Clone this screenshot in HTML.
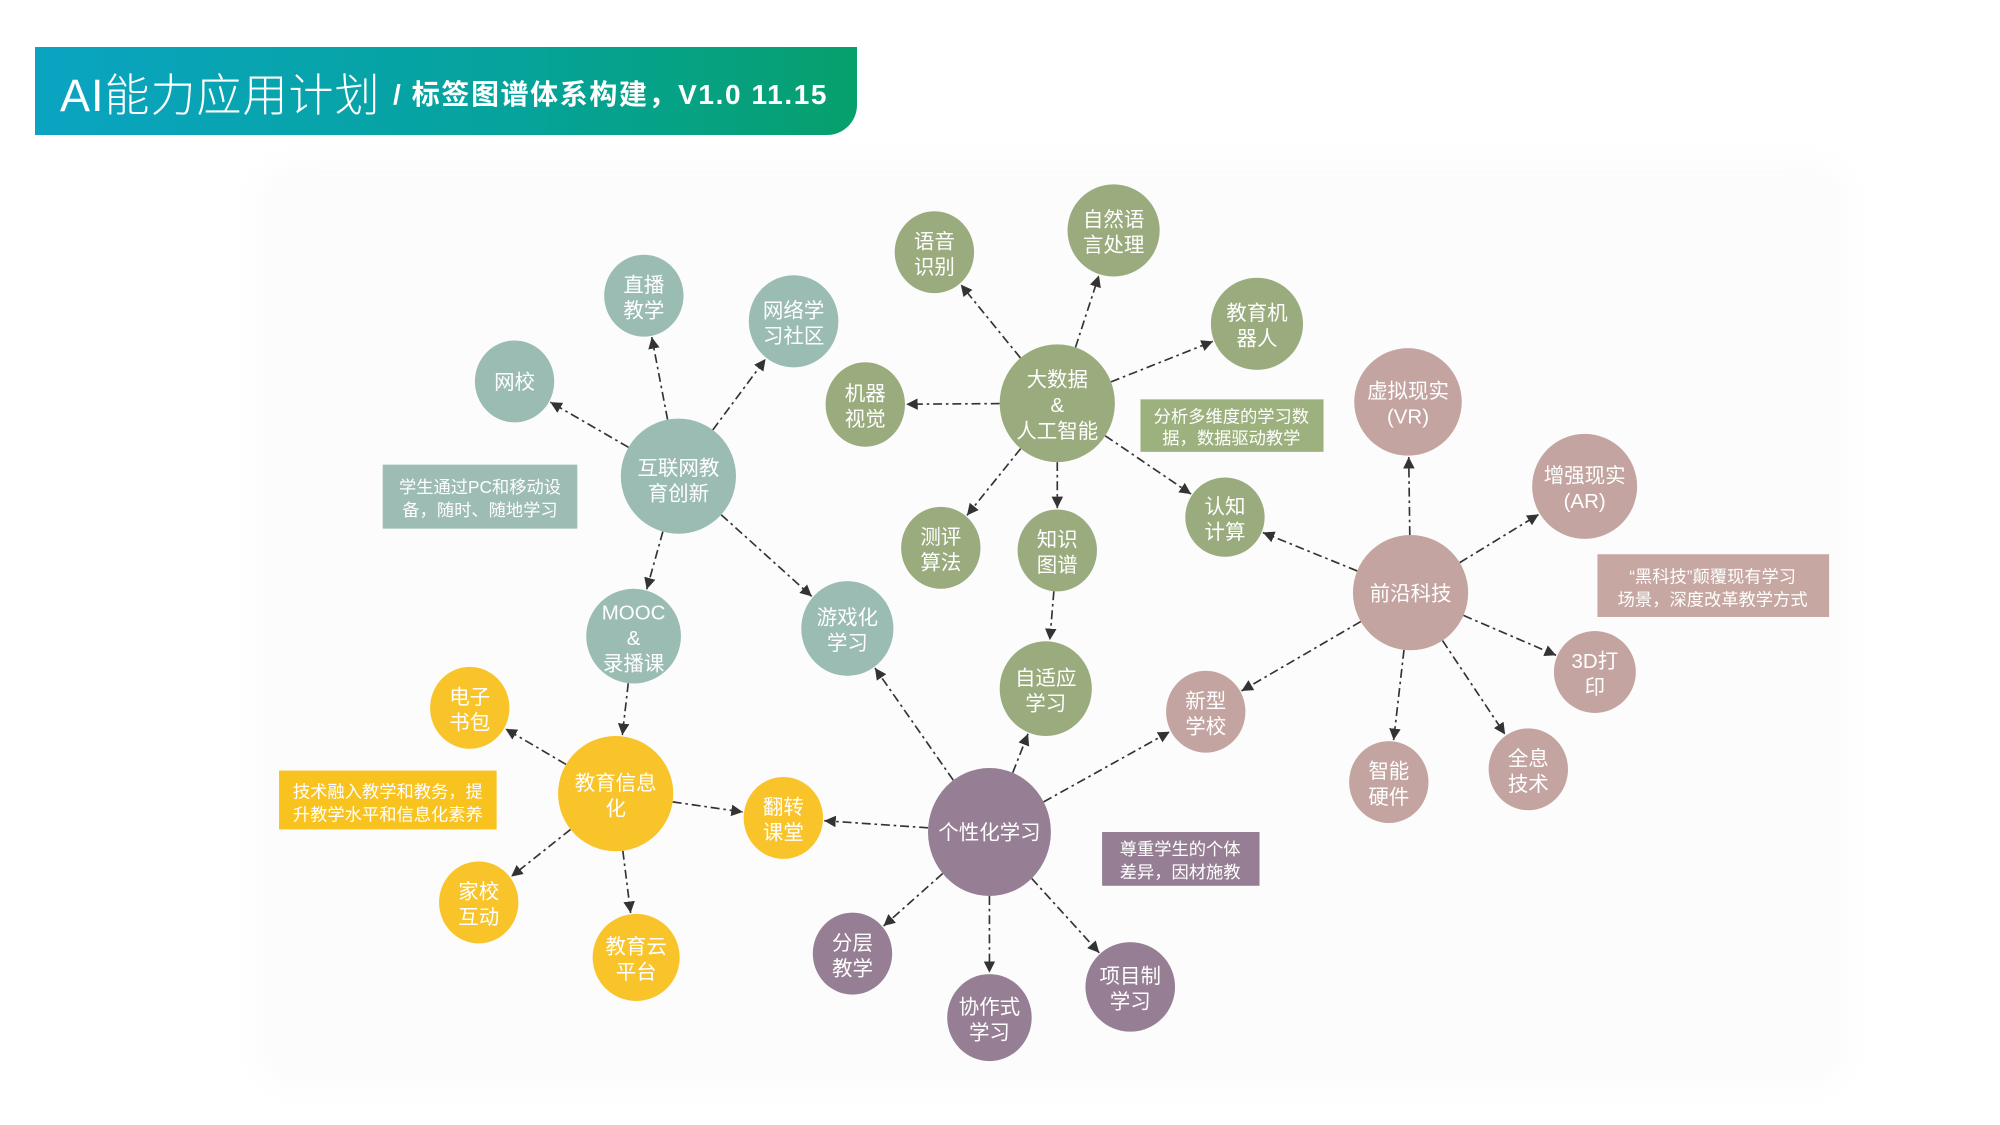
<!DOCTYPE html>
<html><head><meta charset="utf-8">
<style>
html,body{margin:0;padding:0;background:#fff;}
body{width:2000px;height:1125px;overflow:hidden;position:relative;font-family:"Liberation Sans","Noto Sans CJK SC",sans-serif;}
#hdr{position:absolute;left:35px;top:47px;width:822px;height:88px;background:linear-gradient(90deg,#0aa4c2 0%,#05a39a 60%,#06a06c 100%);border-bottom-right-radius:30px;color:#fff;}
#hdr .t{position:absolute;left:25px;top:12px;font-size:45px;font-weight:300;letter-spacing:1px;white-space:nowrap;}
#hdr .s{position:absolute;left:358px;top:26px;font-size:28px;font-weight:bold;white-space:nowrap;letter-spacing:1.6px;}
#bg{position:absolute;left:255px;top:160px;width:1595px;height:930px;background:#fcfcfc;border-radius:40px;filter:blur(12px);}
svg{position:absolute;left:0;top:0;}
text{font-family:"Liberation Sans","Noto Sans CJK SC",sans-serif;fill:#fff;font-size:16px;text-anchor:middle;}
.lb{font-size:13.5px;}
</style></head><body>
<div id="bg"></div>
<div id="hdr"><div class="t">AI能力应用计划</div><div class="s">/ 标签图谱体系构建，V1.0 11.15</div></div>
<svg id="sv" width="2000" height="1125" viewBox="0 0 1562.5 878.9">
<defs><marker id="ah" viewBox="0 0 10 10" refX="10" refY="5" markerWidth="9" markerHeight="9" markerUnits="userSpaceOnUse" orient="auto"><path d="M0,0 L10,5 L0,10 z" fill="#333"/></marker></defs>
<g id="edges"></g>
<g id="nodes">
<ellipse cx="530" cy="372" rx="45" ry="45" fill="#9bbcb3"/><text x="530" y="371">互联网教</text><text x="530" y="391">育创新</text>
<ellipse cx="402" cy="298" rx="31" ry="32" fill="#9bbcb3"/><text x="402" y="304">网校</text>
<ellipse cx="503" cy="231" rx="31" ry="32" fill="#9bbcb3"/><text x="503" y="228">直播</text><text x="503" y="248">教学</text>
<ellipse cx="620" cy="251" rx="35" ry="36" fill="#9bbcb3"/><text x="620" y="248">网络学</text><text x="620" y="268">习社区</text>
<ellipse cx="495" cy="497" rx="37" ry="37" fill="#9bbcb3"/><text x="495" y="484">MOOC</text><text x="495" y="504">&amp;</text><text x="495" y="524">录播课</text>
<ellipse cx="662" cy="491" rx="36" ry="37" fill="#9bbcb3"/><text x="662" y="488">游戏化</text><text x="662" y="508">学习</text>
<ellipse cx="826" cy="315" rx="45" ry="46" fill="#9aab7e"/><text x="826" y="302">大数据</text><text x="826" y="322">&amp;</text><text x="826" y="342">人工智能</text>
<ellipse cx="730" cy="197" rx="31" ry="32" fill="#9aab7e"/><text x="730" y="194">语音</text><text x="730" y="214">识别</text>
<ellipse cx="870" cy="180" rx="36" ry="36" fill="#9aab7e"/><text x="870" y="177">自然语</text><text x="870" y="197">言处理</text>
<ellipse cx="982" cy="253" rx="36" ry="36" fill="#9aab7e"/><text x="982" y="250">教育机</text><text x="982" y="270">器人</text>
<ellipse cx="676" cy="316" rx="31" ry="33" fill="#9aab7e"/><text x="676" y="313">机器</text><text x="676" y="333">视觉</text>
<ellipse cx="735" cy="428" rx="31" ry="32" fill="#9aab7e"/><text x="735" y="425">测评</text><text x="735" y="445">算法</text>
<ellipse cx="826" cy="430" rx="31" ry="32" fill="#9aab7e"/><text x="826" y="427">知识</text><text x="826" y="447">图谱</text>
<ellipse cx="957" cy="404" rx="31" ry="31" fill="#9aab7e"/><text x="957" y="401">认知</text><text x="957" y="421">计算</text>
<ellipse cx="817" cy="538" rx="36" ry="37" fill="#9aab7e"/><text x="817" y="535">自适应</text><text x="817" y="555">学习</text>
<ellipse cx="1102" cy="463" rx="45" ry="45" fill="#c4a4a0"/><text x="1102" y="469">前沿科技</text>
<ellipse cx="1100" cy="314" rx="42" ry="42" fill="#c4a4a0"/><text x="1100" y="311">虚拟现实</text><text x="1100" y="331">(VR)</text>
<ellipse cx="1238" cy="380" rx="41" ry="41" fill="#c4a4a0"/><text x="1238" y="377">增强现实</text><text x="1238" y="397">(AR)</text>
<ellipse cx="1246" cy="525" rx="32" ry="32" fill="#c4a4a0"/><text x="1246" y="522">3D打</text><text x="1246" y="542">印</text>
<ellipse cx="1194" cy="601" rx="31" ry="32" fill="#c4a4a0"/><text x="1194" y="598">全息</text><text x="1194" y="618">技术</text>
<ellipse cx="1085" cy="611" rx="31" ry="32" fill="#c4a4a0"/><text x="1085" y="608">智能</text><text x="1085" y="628">硬件</text>
<ellipse cx="942" cy="556" rx="31" ry="32" fill="#c4a4a0"/><text x="942" y="553">新型</text><text x="942" y="573">学校</text>
<ellipse cx="481" cy="620" rx="45" ry="45" fill="#f8c42a"/><text x="481" y="617">教育信息</text><text x="481" y="637">化</text>
<ellipse cx="367" cy="553" rx="31" ry="32" fill="#f8c42a"/><text x="367" y="550">电子</text><text x="367" y="570">书包</text>
<ellipse cx="374" cy="705" rx="31" ry="32" fill="#f8c42a"/><text x="374" y="702">家校</text><text x="374" y="722">互动</text>
<ellipse cx="497" cy="748" rx="34" ry="34" fill="#f8c42a"/><text x="497" y="745">教育云</text><text x="497" y="765">平台</text>
<ellipse cx="612" cy="639" rx="31" ry="32" fill="#f8c42a"/><text x="612" y="636">翻转</text><text x="612" y="656">课堂</text>
<ellipse cx="773" cy="650" rx="48" ry="50" fill="#967f94"/><text x="773" y="656">个性化学习</text>
<ellipse cx="666" cy="745" rx="31" ry="32" fill="#967f94"/><text x="666" y="742">分层</text><text x="666" y="762">教学</text>
<ellipse cx="773" cy="795" rx="33" ry="34" fill="#967f94"/><text x="773" y="792">协作式</text><text x="773" y="812">学习</text>
<ellipse cx="883" cy="771" rx="35" ry="35" fill="#967f94"/><text x="883" y="768">项目制</text><text x="883" y="788">学习</text>
<rect x="299" y="363" width="152" height="50" fill="#9dbdb4"/><text class="lb" x="375" y="385">学生通过PC和移动设</text><text class="lb" x="375" y="403">备，随时、随地学习</text>
<rect x="891" y="312" width="143" height="41" fill="#9db17e"/><text class="lb" x="962" y="330">分析多维度的学习数</text><text class="lb" x="962" y="347">据，数据驱动教学</text>
<rect x="1248" y="433" width="181" height="49" fill="#c6a7a2"/><text class="lb" x="1338" y="455">“黑科技”颠覆现有学习</text><text class="lb" x="1338" y="473">场景，深度改革教学方式</text>
<rect x="218" y="602" width="170" height="46" fill="#f9c31f"/><text class="lb" x="303" y="623">技术融入教学和教务，提</text><text class="lb" x="303" y="641">升教学水平和信息化素养</text>
<rect x="861" y="650" width="123" height="42" fill="#967f95"/><text class="lb" x="922" y="668">尊重学生的个体</text><text class="lb" x="922" y="686">差异，因材施教</text>
</g>
</svg>
<script>
var N={hl:[530,372,45,45],wx:[402,298,31,32],zb:[503,231,31,32],wl:[620,251,35,36],mo:[495,497,37,37],yx:[662,491,36,37],
dsj:[826,315,45,46],yy:[730,197,31,32],zr:[870,180,36,36],jq:[982,253,36,36],jv:[676,316,31,33],cp:[735,428,31,32],zs:[826,430,31,32],rz:[957,404,31,31],zsy:[817,538,36,37],
qy:[1102,463,45,45],vr:[1100,314,42,42],ar:[1238,380,41,41],d3:[1246,525,32,32],qx:[1194,601,31,32],zn:[1085,611,31,32],xx:[942,556,31,32],
jy:[481,620,45,45],dz:[367,553,31,32],jx:[374,705,31,32],jyy:[497,748,34,34],fz:[612,639,31,32],
gx:[773,650,48,50],fc:[666,745,31,32],xz:[773,795,33,34],xm:[883,771,35,35]};
var E=[["hl","wx"],["hl","zb"],["hl","wl"],["hl","mo"],["hl","yx"],["dsj","yy"],["dsj","zr"],["dsj","jq"],["dsj","jv"],["dsj","cp"],["dsj","zs"],["dsj","rz"],["zs","zsy"],
["qy","vr"],["qy","ar"],["qy","d3"],["qy","qx"],["qy","zn"],["qy","xx"],["qy","rz"],["mo","jy"],["jy","dz"],["jy","jx"],["jy","jyy"],["jy","fz"],
["gx","fz"],["gx","yx"],["gx","zsy"],["gx","xx"],["gx","fc"],["gx","xz"],["gx","xm"]];
function edge(a,b){var dx=b[0]-a[0],dy=b[1]-a[1],L=Math.hypot(dx,dy),ux=dx/L,uy=dy/L;
function r(n){return n[2]*n[3]/Math.sqrt(Math.pow(n[3]*ux,2)+Math.pow(n[2]*uy,2));}
var ra=r(a),rb=r(b);return [a[0]+ux*ra,a[1]+uy*ra,b[0]-ux*(rb+1),b[1]-uy*(rb+1)];}
var g=document.getElementById("edges"),s="";
E.forEach(function(e){var p=edge(N[e[0]],N[e[1]]);
s+='<line x1="'+p[0]+'" y1="'+p[1]+'" x2="'+p[2]+'" y2="'+p[3]+'" stroke="#333" stroke-width="1.3" stroke-dasharray="7 3 2 3" marker-end="url(#ah)"/>';});
g.innerHTML=s;
</script>
</body></html>
